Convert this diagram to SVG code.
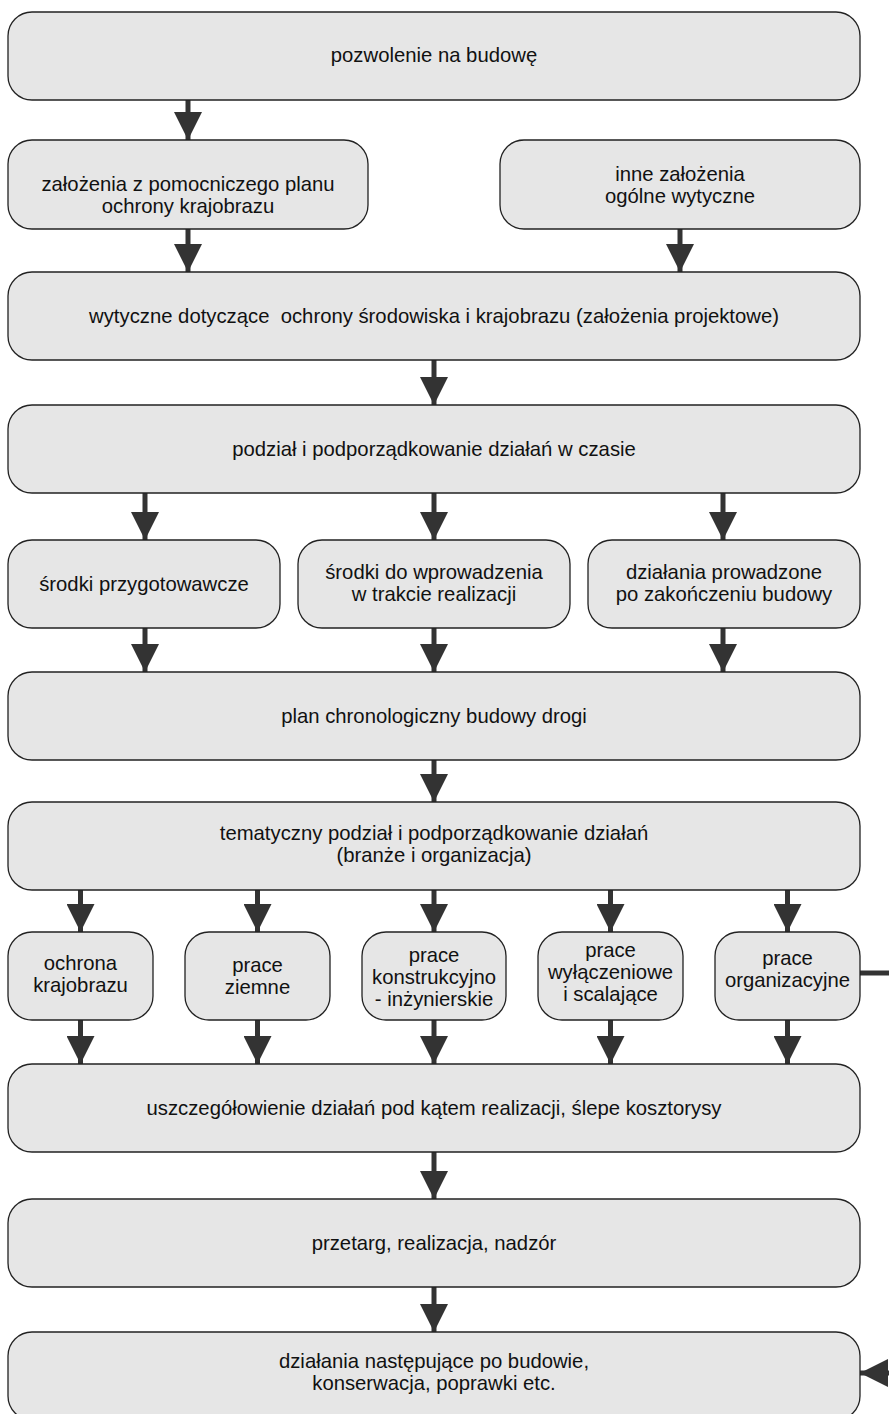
<svg xmlns="http://www.w3.org/2000/svg" width="889" height="1414" viewBox="0 0 889 1414">
<style>
.box{fill:#e6e6e6;stroke:#222;stroke-width:1.3}
.t{font-family:"Liberation Sans",Arial,sans-serif;font-size:20.3px;fill:#111;text-anchor:middle;white-space:pre}
.c{stroke:#333;stroke-width:5;fill:none}
</style>
<defs>
<marker id="ah" markerUnits="userSpaceOnUse" markerWidth="28" markerHeight="28" refX="28" refY="14" orient="auto">
<path d="M0,0 L28,14 L0,28 z" fill="#333"/>
</marker>
</defs>
<rect width="889" height="1414" fill="#fff"/>
<g id="connectors">
<line class="c" x1="188" y1="100" x2="188" y2="140" marker-end="url(#ah)"/>
<line class="c" x1="188" y1="229" x2="188" y2="272" marker-end="url(#ah)"/>
<line class="c" x1="680" y1="229" x2="680" y2="272" marker-end="url(#ah)"/>
<line class="c" x1="434" y1="360" x2="434" y2="405" marker-end="url(#ah)"/>
<line class="c" x1="145" y1="493" x2="145" y2="540" marker-end="url(#ah)"/>
<line class="c" x1="434" y1="493" x2="434" y2="540" marker-end="url(#ah)"/>
<line class="c" x1="723" y1="493" x2="723" y2="540" marker-end="url(#ah)"/>
<line class="c" x1="145" y1="628" x2="145" y2="672" marker-end="url(#ah)"/>
<line class="c" x1="434" y1="628" x2="434" y2="672" marker-end="url(#ah)"/>
<line class="c" x1="723" y1="628" x2="723" y2="672" marker-end="url(#ah)"/>
<line class="c" x1="434" y1="760" x2="434" y2="802" marker-end="url(#ah)"/>
<line class="c" x1="80.5" y1="890" x2="80.5" y2="932" marker-end="url(#ah)"/>
<line class="c" x1="257.5" y1="890" x2="257.5" y2="932" marker-end="url(#ah)"/>
<line class="c" x1="434" y1="890" x2="434" y2="932" marker-end="url(#ah)"/>
<line class="c" x1="610.5" y1="890" x2="610.5" y2="932" marker-end="url(#ah)"/>
<line class="c" x1="787.5" y1="890" x2="787.5" y2="932" marker-end="url(#ah)"/>
<line class="c" x1="80.5" y1="1020" x2="80.5" y2="1064" marker-end="url(#ah)"/>
<line class="c" x1="257.5" y1="1020" x2="257.5" y2="1064" marker-end="url(#ah)"/>
<line class="c" x1="434" y1="1020" x2="434" y2="1064" marker-end="url(#ah)"/>
<line class="c" x1="610.5" y1="1020" x2="610.5" y2="1064" marker-end="url(#ah)"/>
<line class="c" x1="787.5" y1="1020" x2="787.5" y2="1064" marker-end="url(#ah)"/>
<line class="c" x1="434" y1="1152" x2="434" y2="1199" marker-end="url(#ah)"/>
<line class="c" x1="434" y1="1287" x2="434" y2="1332" marker-end="url(#ah)"/>
<line class="c" x1="860" y1="973" x2="892" y2="973"/>
<line class="c" x1="895" y1="1373" x2="860" y2="1373" marker-end="url(#ah)"/>
</g>
<g id="n1"><rect class="box" x="8" y="12" width="852" height="88" rx="24"/><text class="t" x="434" y="62">pozwolenie na budowę</text></g>
<g id="n2"><rect class="box" x="8" y="140" width="360" height="89" rx="24"/><text class="t" x="188" y="191">założenia z pomocniczego planu</text><text class="t" x="188" y="213">ochrony krajobrazu</text></g>
<g id="n3"><rect class="box" x="500" y="140" width="360" height="89" rx="24"/><text class="t" x="680" y="181">inne założenia</text><text class="t" x="680" y="203">ogólne wytyczne</text></g>
<g id="n4"><rect class="box" x="8" y="272" width="852" height="88" rx="24"/><text class="t" x="434" y="323">wytyczne dotyczące  ochrony środowiska i krajobrazu (założenia projektowe)</text></g>
<g id="n5"><rect class="box" x="8" y="405" width="852" height="88" rx="24"/><text class="t" x="434" y="456">podział i podporządkowanie działań w czasie</text></g>
<g id="n6"><rect class="box" x="8" y="540" width="272" height="88" rx="24"/><text class="t" x="144" y="591">środki przygotowawcze</text></g>
<g id="n7"><rect class="box" x="298" y="540" width="272" height="88" rx="24"/><text class="t" x="434" y="579">środki do wprowadzenia</text><text class="t" x="434" y="601">w trakcie realizacji</text></g>
<g id="n8"><rect class="box" x="588" y="540" width="272" height="88" rx="24"/><text class="t" x="724" y="579">działania prowadzone</text><text class="t" x="724" y="601">po zakończeniu budowy</text></g>
<g id="n9"><rect class="box" x="8" y="672" width="852" height="88" rx="24"/><text class="t" x="434" y="723">plan chronologiczny budowy drogi</text></g>
<g id="n10"><rect class="box" x="8" y="802" width="852" height="88" rx="24"/><text class="t" x="434" y="840">tematyczny podział i podporządkowanie działań</text><text class="t" x="434" y="862">(branże i organizacja)</text></g>
<g id="n11"><rect class="box" x="8" y="932" width="145" height="88" rx="24"/><text class="t" x="80.5" y="970">ochrona</text><text class="t" x="80.5" y="992">krajobrazu</text></g>
<g id="n12"><rect class="box" x="185" y="932" width="145" height="88" rx="24"/><text class="t" x="257.5" y="972">prace</text><text class="t" x="257.5" y="994">ziemne</text></g>
<g id="n13"><rect class="box" x="362" y="932" width="144" height="88" rx="24"/><text class="t" x="434" y="962">prace</text><text class="t" x="434" y="984">konstrukcyjno</text><text class="t" x="434" y="1006">- inżynierskie</text></g>
<g id="n14"><rect class="box" x="538" y="932" width="145" height="88" rx="24"/><text class="t" x="610.5" y="957">prace</text><text class="t" x="610.5" y="979">wyłączeniowe</text><text class="t" x="610.5" y="1001">i scalające</text></g>
<g id="n15"><rect class="box" x="715" y="932" width="145" height="88" rx="24"/><text class="t" x="787.5" y="965">prace</text><text class="t" x="787.5" y="987">organizacyjne</text></g>
<g id="n16"><rect class="box" x="8" y="1064" width="852" height="88" rx="24"/><text class="t" x="434" y="1115">uszczegółowienie działań pod kątem realizacji, ślepe kosztorysy</text></g>
<g id="n17"><rect class="box" x="8" y="1199" width="852" height="88" rx="24"/><text class="t" x="434" y="1250">przetarg, realizacja, nadzór</text></g>
<g id="n18"><rect class="box" x="8" y="1332" width="852" height="88" rx="24"/><text class="t" x="434" y="1368">działania następujące po budowie,</text><text class="t" x="434" y="1390">konserwacja, poprawki etc.</text></g>
</svg>
